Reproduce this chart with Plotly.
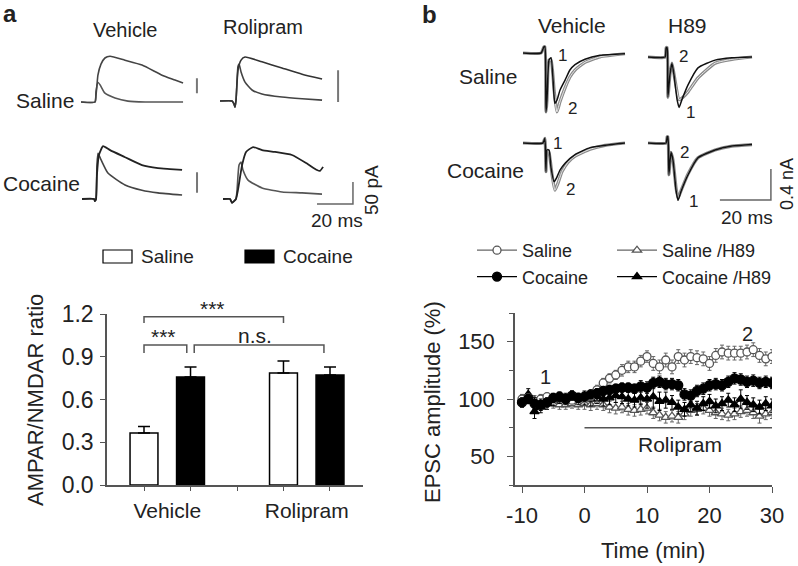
import plotly.graph_objects as go

W, H = 798, 566
FONT = "Arial, 'Liberation Sans', Helvetica, sans-serif"
INK = "#222222"
AX = "#555555"
NOFILL = "rgba(0,0,0,0)"

# ---------------- data: panel a, AMPAR/NMDAR ratio ----------------
bar_groups = ["Vehicle", "Rolipram"]
saline_ratio = [0.365, 0.786]
saline_sem = [0.045, 0.085]
cocaine_ratio = [0.758, 0.772]
cocaine_sem = [0.070, 0.056]

# ---------------- data: panel b, EPSC time course ----------------
time_min = [-10, -9, -8, -7, -6, -5, -4, -3, -2, -1, 0, 1, 2, 3, 4, 5, 6, 7, 8, 9, 10,
            11, 12, 13, 14, 15, 16, 17, 18, 19, 20, 21, 22, 23, 24, 25, 26, 27, 28, 29, 30]
saline_epsc = [100, 101, 98, 100, 102, 99, 101, 100, 99, 101, 100, 102, 108, 114, 118, 121, 125, 128, 128, 133, 137,
               131, 128, 134, 128, 137, 134, 137, 136, 135, 131, 138, 141, 140, 140, 140, 141, 143, 138, 135, 137]
saline_epsc_sem = [3, 3, 3, 3, 3, 3, 3, 3, 3, 3, 3, 3, 4, 4, 4, 4, 5, 5, 5, 5, 5,
                   6, 6, 6, 6, 6, 6, 6, 6, 6, 6, 6, 6, 6, 6, 6, 6, 6, 6, 6, 6]
cocaine_epsc = [97, 100, 96, 95, 97, 101, 102, 100, 103, 101, 102, 104, 105, 107, 108, 109, 110, 110, 109, 111, 110,
                114, 115, 113, 113, 112, 104, 103, 107, 109, 112, 113, 112, 115, 118, 117, 115, 116, 114, 115, 114]
cocaine_epsc_sem = [4, 4, 5, 5, 4, 4, 4, 4, 4, 4, 4, 4, 4, 4, 4, 4, 4, 4, 4, 5, 5,
                    5, 5, 5, 5, 5, 5, 5, 5, 5, 5, 5, 5, 5, 5, 5, 5, 5, 5, 5, 5]
saline_h89_epsc = [100, 101, 99, 100, 97, 96, 95, 95, 96, 95, 96, 95, 96, 95, 93, 92, 93, 91, 90, 91, 92,
                   88, 86, 84, 85, 84, 87, 90, 91, 92, 90, 88, 87, 86, 87, 89, 90, 88, 85, 87, 88]
saline_h89_sem = [4, 4, 4, 4, 4, 4, 4, 4, 4, 4, 5, 5, 5, 5, 5, 5, 5, 5, 5, 5, 5,
                  5, 5, 5, 5, 5, 5, 5, 5, 5, 5, 5, 5, 5, 5, 5, 5, 5, 6, 5, 5]
cocaine_h89_epsc = [98, 104, 89, 93, 96, 99, 101, 100, 102, 100, 101, 100, 102, 100, 101, 103, 102, 100, 99, 101, 100,
                    102, 98, 99, 97, 93, 91, 95, 92, 96, 98, 94, 96, 99, 95, 100, 97, 95, 93, 96, 94]
cocaine_h89_sem = [5, 5, 6, 5, 5, 5, 5, 5, 5, 5, 6, 6, 6, 6, 6, 6, 6, 6, 6, 6, 8,
                   10, 8, 7, 6, 6, 6, 6, 6, 6, 6, 6, 6, 6, 6, 8, 6, 6, 6, 6, 6]
rolipram_start, rolipram_end, rolipram_bar_level = 0, 30, 75
time_ticks = [-10, 0, 10, 20, 30]
time_tick_text = ["-10", "0", "10", "20", "30"]

# ---------------- data: panel a example currents (ms, pA) ----------------
a_vs_nmda_t = [0, 7.8, 8.3, 8.9, 9.4, 11.1, 13.3, 16.1, 24.4, 33.9, 45.0, 52.2, 56.7]
a_vs_nmda_i = [0, 0, 14, 40, 61, 86, 100, 104, 95, 84, 61, 50, 43]
a_vs_ampa_t = [0, 7.8, 8.3, 9.4, 10.6, 13.3, 18.9, 26.1, 35.6, 56.7]
a_vs_ampa_i = [0, 0, 23, 45, 39, 20, 9, 2, 0, 0]
a_rs_nmda_t = [0, 6.7, 7.8, 8.3, 8.9, 10.0, 11.7, 13.9, 23.3, 34.4, 45.6, 56.7]
a_rs_nmda_i = [0, 0, -7, -14, 2, 70, 93, 100, 89, 75, 61, 50]
a_rs_ampa_t = [0, 6.7, 7.8, 8.3, 8.9, 10.0, 10.6, 11.7, 13.9, 17.8, 23.3, 34.4, 45.6, 56.7]
a_rs_ampa_i = [0, 0, -7, -14, 2, 79, 84, 66, 43, 25, 16, 9, 5, 2]
a_vc_nmda_t = [0, 6.7, 7.2, 7.8, 8.3, 9.4, 11.7, 15.6, 23.9, 33.3, 42.2, 48.9, 55.6]
a_vc_nmda_i = [0, 0, -5, 0, 54, 100, 120, 111, 95, 77, 70, 68, 66]
a_vc_ampa_t = [0, 6.7, 7.2, 7.8, 8.3, 8.9, 10.6, 14.4, 23.9, 33.3, 42.2, 55.6]
a_vc_ampa_i = [0, 0, -5, 0, 77, 104, 89, 59, 32, 20, 14, 9]
a_rc_nmda_t = [0, 3.9, 5.0, 6.1, 7.2, 8.3, 10.6, 12.8, 16.7, 21.7, 28.9, 38.3, 47.2, 52.2, 53.9, 55.6]
a_rc_nmda_i = [0, 0, -9, -5, 0, 20, 77, 107, 118, 111, 107, 100, 79, 66, 64, 73]
a_rc_ampa_t = [0, 3.9, 5.0, 6.1, 7.2, 7.8, 8.9, 10.0, 11.1, 13.9, 21.7, 32.8, 43.9, 55.0]
a_rc_ampa_i = [0, 0, -9, -5, 0, 20, 77, 84, 66, 43, 25, 16, 14, 11]
a_scale_ms, a_scale_pA = 20, 50

# ---------------- data: panel b example EPSCs (ms, nA) ----------------
b_vs1_t = [0, 7.1, 8.2, 8.6, 9.0, 9.4, 10.2, 11.0, 11.8, 12.5, 13.3, 14.5, 16.5, 18.4, 20.4, 24.3, 30.2, 40.0]
b_vs1_i = [0, 0, 0.08, 0.08, -0.76, -0.61, -0.09, -0.06, -0.35, -0.65, -0.61, -0.48, -0.35, -0.22, -0.15, -0.08, -0.03, -0.01]
b_vs2_t = [0, 7.1, 8.2, 8.6, 9.0, 9.4, 10.2, 11.0, 12.2, 13.3, 14.5, 16.5, 18.4, 20.4, 24.3, 30.2, 40.0]
b_vs2_i = [0, 0, 0.08, 0.08, -0.76, -0.61, -0.09, -0.09, -0.48, -0.76, -0.63, -0.45, -0.31, -0.22, -0.12, -0.05, -0.01]
b_hs1_t = [0, 6.7, 7.1, 7.5, 7.8, 8.6, 9.4, 10.2, 11.4, 12.2, 13.3, 15.7, 19.6, 26.3, 32.9, 40.8]
b_hs1_i = [0, 0, 0.12, 0.12, -0.52, -0.23, -0.08, -0.23, -0.55, -0.65, -0.55, -0.36, -0.14, -0.04, -0.01, 0]
b_hs2_t = [0, 6.7, 7.1, 7.5, 7.8, 8.6, 9.4, 10.6, 12.2, 13.7, 15.7, 19.6, 26.3, 32.9, 40.8]
b_hs2_i = [0, 0, 0.12, 0.12, -0.52, -0.23, -0.08, -0.30, -0.55, -0.52, -0.45, -0.27, -0.08, -0.03, 0]
b_vc1_t = [0, 7.8, 8.6, 9.0, 9.4, 10.2, 11.0, 12.2, 13.3, 14.5, 16.5, 20.4, 26.3, 32.2, 40.0]
b_vc1_i = [0, 0, 0.06, -0.37, -0.09, -0.09, -0.32, -0.50, -0.44, -0.35, -0.26, -0.15, -0.06, -0.03, 0]
b_vc2_t = [0, 7.8, 8.6, 9.0, 9.4, 10.2, 11.4, 12.5, 13.7, 15.3, 17.6, 20.4, 26.3, 32.2, 40.0]
b_vc2_i = [0, 0, 0.06, -0.37, -0.09, -0.12, -0.41, -0.61, -0.52, -0.37, -0.25, -0.17, -0.08, -0.03, 0]
b_hc1_t = [0, 7.1, 7.5, 7.8, 8.2, 9.0, 9.8, 11.0, 11.8, 12.9, 15.7, 19.6, 26.3, 32.9, 40.8]
b_hc1_i = [0, 0, 0.08, 0.08, -0.41, -0.12, -0.22, -0.61, -0.74, -0.63, -0.41, -0.19, -0.09, -0.04, -0.02]
b_hc2_t = [0, 7.1, 7.5, 7.8, 8.2, 9.0, 9.8, 11.0, 11.8, 12.9, 15.7, 19.6, 26.3, 32.9, 40.8]
b_hc2_i = [0, 0, 0.08, 0.08, -0.41, -0.12, -0.22, -0.58, -0.71, -0.62, -0.40, -0.19, -0.09, -0.04, -0.02]
b_scale_ms, b_scale_nA = 20, 0.4


# ---------------- helpers ----------------
def dx(p):
    return p / W


def dy(p):
    return 1 - p / H


fig = go.Figure()
layout = dict(
    template="none",
    width=W, height=H, margin=dict(l=0, r=0, t=0, b=0, pad=0, autoexpand=False),
    paper_bgcolor="white", plot_bgcolor=NOFILL,
    font=dict(family=FONT, size=21, color=INK),
    barmode="group", bargap=0.333, bargroupgap=0.4,
    showlegend=True, hovermode=False,
)
shapes, annots = [], []


def text(x, y, s, size=21, angle=0, xanchor="center", bold=False, yanchor="middle"):
    annots.append(dict(xref="paper", yref="paper", x=dx(x), y=dy(y), text=f"<b>{s}</b>" if bold else s,
                       showarrow=False, font=dict(size=size, family=FONT, color=INK), textangle=angle,
                       xanchor=xanchor, yanchor=yanchor))


# ---------- bar chart (x/y) ----------
group_x = [1.5, 4.5]
fig.add_trace(go.Bar(x=group_x, y=saline_ratio, name="Saline", marker=dict(color="white", line=dict(color="black", width=1.5)),
                     error_y=dict(type="data", array=saline_sem, arrayminus=[0, 0], symmetric=False, color="black", thickness=1.5, width=6),
                     showlegend=False, xaxis="x", yaxis="y"))
fig.add_trace(go.Bar(x=group_x, y=cocaine_ratio, name="Cocaine", marker=dict(color="black", line=dict(color="black", width=1.5)),
                     error_y=dict(type="data", array=cocaine_sem, arrayminus=[0, 0], symmetric=False, color="black", thickness=1.5, width=6),
                     showlegend=False, xaxis="x", yaxis="y"))
layout["xaxis"] = dict(domain=[dx(107), dx(363)], range=[0.204, 5.71], anchor="y", automargin=False,
                       tickvals=group_x, ticktext=bar_groups, ticks="", showline=True, linecolor=AX, linewidth=1.5,
                       showgrid=False, zeroline=False, ticklabelstandoff=6, tickfont=dict(size=21),
                       minor=dict(tickvals=[1, 2, 3, 4, 5], ticks="outside", ticklen=4, tickcolor=AX, showgrid=False))
layout["yaxis"] = dict(domain=[dy(485), dy(314)], range=[0, 1.2], anchor="x", automargin=False,
                       tickvals=[0, 0.3, 0.6, 0.9, 1.2], ticktext=["0.0", "0.3", "0.6", "0.9", "1.2"],
                       ticks="outside", ticklen=5, tickcolor=AX, showline=True, linecolor=AX, linewidth=1.5,
                       showgrid=False, zeroline=False, tickfont=dict(size=23), ticklabelstandoff=2)
# significance brackets
for (x0, x1, ytop, ybot) in [(1, 4, 1.18, 1.137), (1, 1.92, 0.982, 0.926), (2.08, 4.87, 0.982, 0.926)]:
    shapes.append(dict(type="path", xref="x", yref="y", fillcolor=NOFILL,
                       path=f"M {x0},{ybot} L {x0},{ytop} L {x1},{ytop} L {x1},{ybot}",
                       line=dict(color=AX, width=1.5)))
text(212, 308, "***", size=21)
annots.append(dict(xref="x", yref="y", x=1.41, y=1.04, text="***", showarrow=False, font=dict(size=21)))
annots.append(dict(xref="x", yref="y", x=3.39, y=1.05, text="n.s.", showarrow=False, font=dict(size=21)))
text(35, 400, "AMPAR/NMDAR ratio", size=22, angle=-90)
# bar legend
shapes.append(dict(type="rect", xref="paper", yref="paper", x0=dx(103), x1=dx(132), y0=dy(263), y1=dy(250),
                   line=dict(color="black", width=1.2), fillcolor="white"))
shapes.append(dict(type="rect", xref="paper", yref="paper", x0=dx(245), x1=dx(274), y0=dy(263), y1=dy(250),
                   line=dict(color="black", width=1.2), fillcolor="black"))
text(139, 256, "Saline", size=19, xanchor="left")
text(281, 256, "Cocaine", size=19, xanchor="left")

# ---------- time course (x2/y2) ----------
series = [
    ("Saline", saline_epsc, saline_epsc_sem, "circle", "white", "#555555", "#666666", "legend", 8),
    ("Cocaine", cocaine_epsc, cocaine_epsc_sem, "circle", "black", "black", "black", "legend", 9),
    ("Saline /H89", saline_h89_epsc, saline_h89_sem, "triangle-up", "white", "#555555", "#666666", "legend2", 8),
    ("Cocaine /H89", cocaine_h89_epsc, cocaine_h89_sem, "triangle-up", "black", "black", "black", "legend2", 8),
]
order = [2, 3, 0, 1]
for k in order:
    name, yv, ev, sym, fill, edge, lc, leg, ms = series[k]
    fig.add_trace(go.Scatter(
        x=time_min, y=yv, name=name, mode="lines+markers", legend=leg,
        line=dict(color=lc, width=1.3),
        marker=dict(symbol=sym, size=ms, color=fill, line=dict(color=edge, width=1.3)),
        error_y=dict(type="data", array=ev, color=lc, thickness=1, width=2),
        xaxis="x2", yaxis="y2"))
layout["xaxis2"] = dict(domain=[dx(515), dx(772)], range=[-11.12, 30], anchor="y2", automargin=False,
                        tickvals=time_ticks, ticktext=time_tick_text, ticks="outside", ticklen=6, tickcolor=AX,
                        showline=True, linecolor=AX, linewidth=1.5, showgrid=False, zeroline=False,
                        tickfont=dict(size=22), ticklabelstandoff=4)
layout["yaxis2"] = dict(domain=[dy(485), dy(313)], range=[25, 175], anchor="x2", automargin=False,
                        tickvals=[50, 100, 150], ticks="outside", ticklen=6, tickcolor=AX,
                        showline=True, linecolor=AX, linewidth=1.5, showgrid=False, zeroline=False,
                        tickfont=dict(size=22), ticklabelstandoff=8,
                        minor=dict(tickvals=[25, 75, 125, 175], ticks="outside", ticklen=4, tickcolor=AX, showgrid=False))
shapes.append(dict(type="line", xref="x2", yref="y2", x0=rolipram_start, x1=rolipram_end,
                   y0=rolipram_bar_level, y1=rolipram_bar_level, line=dict(color=AX, width=1.5)))
annots.append(dict(xref="x2", yref="y2", x=15.3, y=60, text="Rolipram", showarrow=False, font=dict(size=21)))
annots.append(dict(xref="x2", yref="y2", x=-6.2, y=119, text="1", showarrow=False, font=dict(size=20)))
annots.append(dict(xref="x2", yref="y2", x=26, y=157, text="2", showarrow=False, font=dict(size=20)))
text(653, 550, "Time (min)", size=22)
text(432, 402, "EPSC amplitude (%)", size=22, angle=-90)
legcommon = dict(orientation="v", font=dict(size=18, family=FONT, color=INK), bgcolor=NOFILL, borderwidth=0,
                 itemwidth=40, tracegroupgap=0, xanchor="left", yanchor="top", itemclick=False)
layout["legend"] = dict(x=dx(472), y=dy(232), **legcommon)
layout["legend2"] = dict(x=dx(612), y=dy(232), **legcommon)


# ---------- example traces ----------
def trace_axes(idx, ox, oy, sx, sy, xr, yr):
    layout[f"xaxis{idx}"] = dict(domain=[dx(ox + xr[0] * sx), dx(ox + xr[1] * sx)], range=xr,
                                 visible=False, anchor=f"y{idx}", showgrid=False, zeroline=False)
    layout[f"yaxis{idx}"] = dict(domain=[dy(oy - yr[0] * sy), dy(oy - yr[1] * sy)], range=yr,
                                 visible=False, anchor=f"x{idx}", showgrid=False, zeroline=False)


def line(t, i, idx, color, width):
    fig.add_trace(go.Scatter(x=t, y=i, mode="lines", line=dict(color=color, width=width, shape="spline", smoothing=0.5),
                             showlegend=False, hoverinfo="skip", xaxis=f"x{idx}", yaxis=f"y{idx}"))


SXA, SYA = 1.8, 0.44
XRA, YRA = [-2, 76], [-25, 125]
trace_axes(3, 81, 102, SXA, SYA, XRA, YRA)
trace_axes(4, 220, 101, SXA, SYA, XRA, YRA)
trace_axes(5, 82, 199, SXA, SYA, XRA, YRA)
trace_axes(6, 223, 199, SXA, SYA, XRA, YRA)
line(a_vs_ampa_t, a_vs_ampa_i, 3, "#555555", 1.6)
line(a_vs_nmda_t, a_vs_nmda_i, 3, "#444444", 1.6)
line(a_rs_ampa_t, a_rs_ampa_i, 4, "#444444", 1.6)
line(a_rs_nmda_t, a_rs_nmda_i, 4, "#333333", 1.6)
line(a_vc_ampa_t, a_vc_ampa_i, 5, "#444444", 1.6)
line(a_vc_nmda_t, a_vc_nmda_i, 5, "#222222", 1.8)
line(a_rc_ampa_t, a_rc_ampa_i, 6, "#555555", 1.6)
line(a_rc_nmda_t, a_rc_nmda_i, 6, "#222222", 1.8)
# per-trace vertical bars (panel a)
for idx, xb, y0, y1 in [(3, 64.4, 20, 54), (4, 65.6, -2, 70), (5, 63.9, 14, 61)]:
    shapes.append(dict(type="line", xref=f"x{idx}", yref=f"y{idx}", x0=xb, x1=xb, y0=y0, y1=y1,
                       line=dict(color="#777777", width=2)))
# scale bar panel a (in RC axes)
sb_x1, sb_y0 = 72.2, -11.4
shapes.append(dict(type="path", xref="x6", yref="y6", fillcolor=NOFILL,
                   path=f"M {sb_x1 - a_scale_ms},{sb_y0} L {sb_x1},{sb_y0} L {sb_x1},{sb_y0 + a_scale_pA}",
                   line=dict(color="#666666", width=1.5)))
text(337, 220, "20 ms", size=19)
text(372, 190, "50 pA", size=19, angle=-90)

SXB, SYB = 2.55, 77.5
XRB, YRB = [-2, 50], [-0.85, 0.2]
trace_axes(7, 523, 53, SXB, SYB, XRB, YRB)
trace_axes(8, 648, 57, SXB, SYB, XRB, YRB)
trace_axes(9, 523, 143, SXB, SYB, XRB, YRB)
trace_axes(10, 648, 143, SXB, SYB, XRB, YRB)
for idx, (t1, i1, t2, i2) in zip([7, 8, 9, 10], [(b_vs1_t, b_vs1_i, b_vs2_t, b_vs2_i), (b_hs1_t, b_hs1_i, b_hs2_t, b_hs2_i),
                                             (b_vc1_t, b_vc1_i, b_vc2_t, b_vc2_i), (b_hc1_t, b_hc1_i, b_hc2_t, b_hc2_i)]):
    line(t2, i2, idx, "#8a8a8a", 3.2)
    line(t2, i2, idx, "#e8e8e8", 1.0)
    line(t1, i1, idx, "#111111", 1.5)
sbx1, sby0 = 48.2, -0.735
shapes.append(dict(type="path", xref="x10", yref="y10", fillcolor=NOFILL,
                   path=f"M {sbx1 - b_scale_ms},{sby0} L {sbx1},{sby0} L {sbx1},{sby0 + b_scale_nA}",
                   line=dict(color="#666666", width=1.5)))
text(747, 217, "20 ms", size=19)
text(787, 184, "0.4 nA", size=18, angle=-90)
for (x, y, s) in [(562, 55, "1"), (572, 108, "2"), (683, 56, "2"), (690, 113, "1"),
                  (557, 143, "1"), (570, 190, "2"), (684, 152, "2"), (693, 201, "1")]:
    text(x, y, s, size=17)

# ---------- panel titles / row labels ----------
text(10, 14, "a", size=24, bold=True)
text(429, 15, "b", size=24, bold=True)
text(125, 30, "Vehicle", size=20)
text(263, 27, "Rolipram", size=20)
text(45, 100, "Saline", size=21)
text(41, 183, "Cocaine", size=21)
text(572, 26, "Vehicle", size=21)
text(687, 26, "H89", size=21)
text(488, 77, "Saline", size=21)
text(485, 170, "Cocaine", size=21)

layout["shapes"] = shapes
layout["annotations"] = annots
fig.update_layout(**layout)
fig.write_html("out.html", config={"displayModeBar": False},
               post_script="document.body.style.margin='0px';document.body.style.overflow='hidden';")
